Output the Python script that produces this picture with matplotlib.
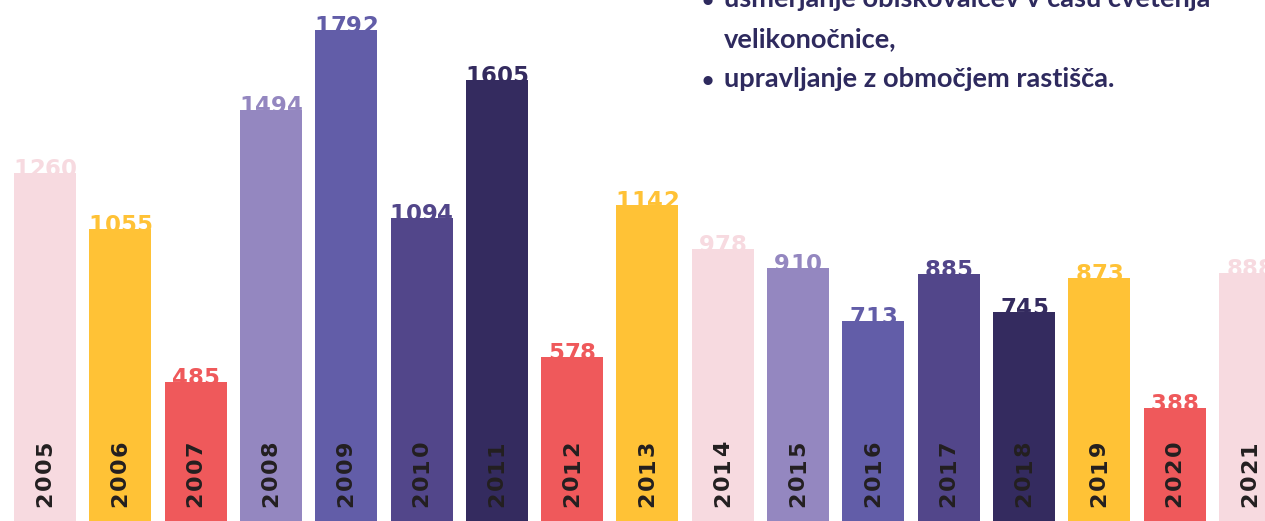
import matplotlib
matplotlib.use("Agg")
import matplotlib.pyplot as plt

# ---- data ----
years = ["2005", "2006", "2007", "2008", "2009", "2010", "2011", "2012", "2013",
         "2014", "2015", "2016", "2017", "2018", "2019", "2020", "2021"]
visitors = [1260, 1055, 485, 1494, 1792, 1094, 1605, 578, 1142,
            978, 910, 713, 885, 745, 873, 388, 888]

PINK = "#F7DAE0"
YELLOW = "#FFC236"
RED = "#EF595B"
LAV = "#9487C0"
PURP = "#625DA8"
DPURP = "#52468A"
DARK = "#342B5F"
bar_colors = [PINK, YELLOW, RED, LAV, PURP, DPURP, DARK, RED, YELLOW,
              PINK, LAV, PURP, DPURP, DARK, YELLOW, RED, PINK]

bullet_lines = ["usmerjanje obiskovalcev v času cvetenja",
                "velikonočnice,",
                "upravljanje z območjem rastišča."]
bullets = [True, False, True]

# ---- figure ----
W, H = 1265, 521
fig = plt.figure(figsize=(W / 100, H / 100), dpi=100)
ax = fig.add_axes([0, 0, 1, 1])
ax.set_axis_off()

YMIN, YMAX = -31.6, 1904
ax.set_ylim(YMIN, YMAX)
ax.set_xlim(-0.598, 16.20)

x = list(range(len(years)))
heights = [v - YMIN for v in visitors]
ax.bar(x, heights, bottom=YMIN, width=0.823, color=bar_colors, zorder=3)

VAL_PITCH = 15.8   # px between digit centres (letter-spaced look)
YEAR_PITCH = 17.0

for xi, v, c, yr in zip(x, visitors, bar_colors, years):
    s = str(v)
    n = len(s)
    for i, ch in enumerate(s):
        ax.annotate(ch, xy=(xi, v), xytext=((i - (n - 1) / 2) * VAL_PITCH, -3),
                    textcoords="offset pixels", ha="center", va="baseline",
                    fontsize=16.5, fontweight="bold", color=c,
                    family="DejaVu Sans", zorder=2)
    n = len(yr)
    for i, ch in enumerate(yr):
        ax.annotate(ch, xy=(xi, 0), xycoords=("data", "axes fraction"),
                    xytext=(0, 47 + (i - (n - 1) / 2) * YEAR_PITCH),
                    textcoords="offset pixels", ha="center", va="center",
                    rotation=90, fontsize=16, fontweight="bold",
                    color="#231F20", family="DejaVu Sans", zorder=4)

TXT = "#2E2A5E"
baselines = [7, 47, 87]
for t, yp, b in zip(bullet_lines, baselines, bullets):
    yf = 1 - yp / H
    if b:
        fig.text(708 / W, yf, "•", ha="center", va="baseline", fontsize=15,
                 fontweight="bold", color=TXT, family="Lato")
    fig.text(724 / W, yf, t, ha="left", va="baseline", fontsize=19.6,
             fontweight="bold", color=TXT, family="Lato")

fig.savefig("out.png", dpi=100)
